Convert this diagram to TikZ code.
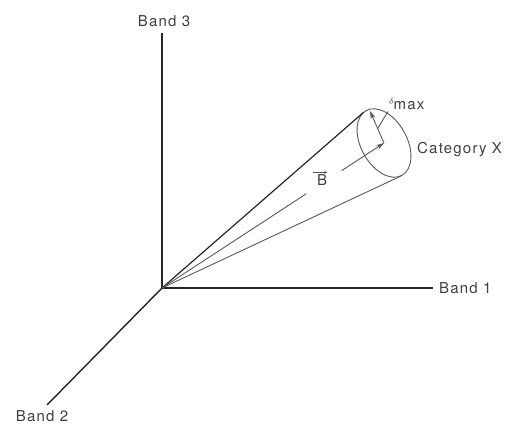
\documentclass[tikz,border=0pt]{standalone}
\usepackage{fontspec}
\setmainfont{TeX Gyre Heros}[LetterSpace=8]
\usetikzlibrary{arrows.meta,positioning,calc}

\begin{document}
\begin{tikzpicture}[x=1pt, y=-1pt,
  axis/.style={draw=black!85, line width=1.4pt},
  cone/.style={draw=black!65, line width=0.9pt},
  lbl/.style={font=\fontsize{15}{18}\selectfont, text=black!75, inner sep=1pt},
  >={Stealth[length=8pt, width=5pt]}
]
  \useasboundingbox (0,0) rectangle (517,427);
  % axes
  \coordinate (O) at (162,288);
  \coordinate (b1) at (433,288);
  \coordinate (b2) at (47,405);
  \coordinate (b3) at (162,33);
  \draw[axis] (O) -- (b1);
  \draw[axis] (O) -- (b2);
  \draw[axis] (O) -- (b3);
  \node[lbl, right=5pt of b1] (band1) {Band 1};
  \node[lbl, below=4pt of b2, xshift=-5pt] (band2) {Band 2};
  \node[lbl, above=5pt of b3, xshift=2pt] (band3) {Band 3};
  % cone of category X
  \coordinate (C) at (384,143);
  \coordinate (t1) at (363.5,112.4);
  \coordinate (t2) at (401,176);
  \coordinate (R) at (370,111);
  \draw[cone, rotate around={-61:(C)}] (C) ellipse [x radius=37, y radius=23];
  \draw[cone, draw=black!85, line width=1.2pt] (O) -- (t1);
  \draw[cone] (O) -- (t2);
  \draw[cone] (O) -- ($(O)!0.65!(C)$);
  \draw[cone, ->] ($(O)!0.81!(C)$) -- (C);
  \draw[cone, ->] (C) -- (R);
  \node[lbl] (vecB) at (322,180) {B};
  \draw[cone, line width=1.1pt, -{Stealth[length=3pt, width=3pt]}]
    ($(vecB.north west)+(-3,-1)$) -- ($(vecB.north east)+(-1,-1)$);
  \node[lbl, anchor=west] (cat) at (416,150) {Category X};
  \node[lbl, anchor=base west] (dmax) at (388,110) {\raisebox{5pt}{\small$\delta$}max};
  \draw[cone] (dmax.south west) -- ($(C)!0.45!(R)$);
\end{tikzpicture}
\end{document}
